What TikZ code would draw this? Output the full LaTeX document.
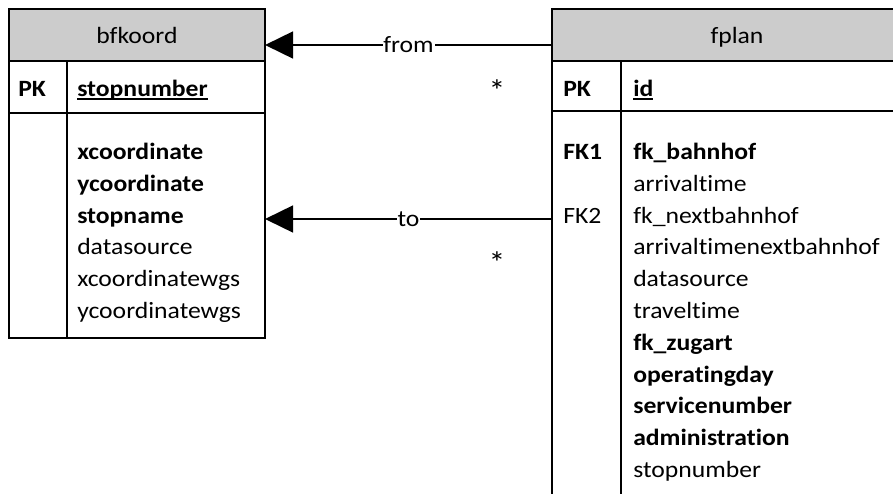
\documentclass[tikz,border=0pt]{standalone}
\usepackage{fontspec}
\setmainfont[FakeStretch=1.1,Ligatures={NoCommon}]{Carlito}
\usetikzlibrary{arrows.meta}
\definecolor{hdrgray}{HTML}{CCCCCC}
\newcommand\tabfont{\fontsize{17.5}{20}\selectfont}
% fixed-depth underline for primary key fields
\newcommand\keyul[1]{\setbox0=\hbox{#1}\rlap{\rule[-2.6pt]{\wd0}{1.3pt}}\box0}
\tikzset{
  frame/.style={draw=black, line width=1.5pt},
  cell/.style={anchor=base west, inner sep=0pt, font=\tabfont},
  title/.style={anchor=base, inner sep=0pt, font=\tabfont},
  fk/.style={line width=2pt, -{Triangle[length=21pt,width=20pt]}},
  rel/.style={fill=white, inner sep=0.6pt, font=\tabfont},
  mult/.style={inner sep=0pt, font=\fontsize{23}{26}\selectfont}
}
\begin{document}
\begin{tikzpicture}[x=0.75pt,y=-0.75pt]
\useasboundingbox (0,0) rectangle (893,493);
\fill[white] (0,0) rectangle (893,493);
\clip (0,0) rectangle (893,493);

% ---- table bfkoord ----
\fill[hdrgray] (9,9) rectangle (265,61);
\draw[frame] (9,9) rectangle (265,338);
\draw[frame] (9,61) -- (265,61);
\draw[frame] (9,113) -- (265,113);
\draw[frame] (67,61) -- (67,338);
\node[title] (bf-title) at (137,43) {bfkoord};
\node[cell] (bf-pk) at (18,96.5) {\bfseries PK};
\node[cell] (bf-id) at (77,96.5) {\bfseries\keyul{stopnumber}};
\node[cell] (bf-r1) at (77,159.5) {\bfseries xcoordinate};
\node[cell] (bf-r2) at (77,191.3) {\bfseries ycoordinate};
\node[cell] (bf-r3) at (77,223.1) {\bfseries stopname};
\node[cell] (bf-r4) at (77,254.9) {datasource};
\node[cell] (bf-r5) at (77,286.7) {xcoordinatewgs};
\node[cell] (bf-r6) at (77,318.5) {ycoordinatewgs};

% ---- table fplan ----
\fill[hdrgray] (552,9) rectangle (922,61);
\draw[frame] (552,9) rectangle (922,520);
\draw[frame] (552,61) -- (922,61);
\draw[frame] (552,111) -- (922,111);
\draw[frame] (621,61) -- (621,520);
\node[title] (fp-title) at (737,43) {fplan};
\node[cell] (fp-pk) at (563,96.5) {\bfseries PK};
\node[cell] (fp-id) at (633,96.5) {\bfseries\keyul{id}};
\node[cell] (fp-fk1) at (563,159.5) {\bfseries FK1};
\node[cell] (fp-fk2) at (563,223.1) {FK2};
\node[cell] (fp-r1) at (633,159.5) {\bfseries fk\_bahnhof};
\node[cell] (fp-r2) at (633,191.3) {arrivaltime};
\node[cell] (fp-r3) at (633,223.1) {fk\_nextbahnhof};
\node[cell] (fp-r4) at (633,254.9) {arrivaltimenextbahnhof};
\node[cell] (fp-r5) at (633,286.7) {datasource};
\node[cell] (fp-r6) at (633,318.5) {traveltime};
\node[cell] (fp-r7) at (633,350.3) {\bfseries fk\_zugart};
\node[cell] (fp-r8) at (633,382.1) {\bfseries operatingday};
\node[cell] (fp-r9) at (633,413.9) {\bfseries servicenumber};
\node[cell] (fp-r10) at (633,445.7) {\bfseries administration};
\node[cell] (fp-r11) at (633,477.5) {stopnumber};

% ---- relationships ----
\coordinate (fp-from) at (552,45);
\coordinate (bf-from) at (265,45);
\coordinate (fp-to) at (552,219);
\coordinate (bf-to) at (265,219);
\draw[fk] (fp-from) -- node[rel] (lbl-from) {from} (bf-from);
\draw[fk] (fp-to) -- node[rel] (lbl-to) {to} (bf-to);
\node[mult] (m-from) at (497,91) {*};
\node[mult] (m-to) at (497,263) {*};
\end{tikzpicture}
\end{document}
